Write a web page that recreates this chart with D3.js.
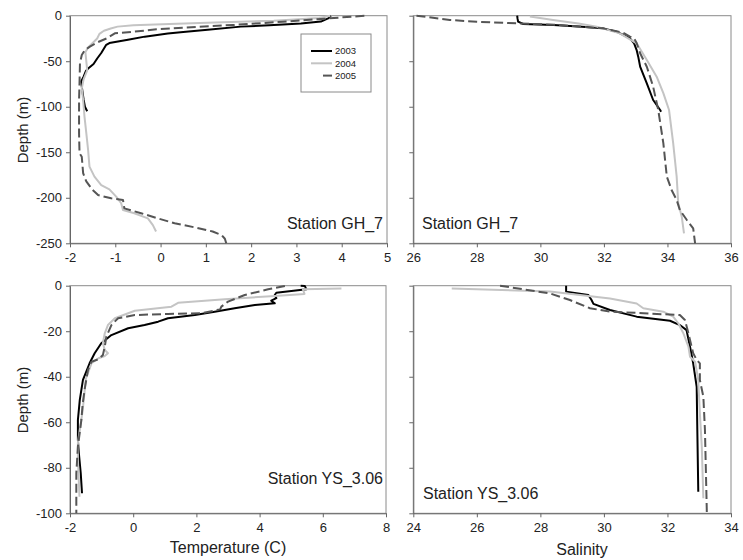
<!DOCTYPE html>
<html><head><meta charset="utf-8">
<script src="https://cdn.jsdelivr.net/npm/d3@7"></script>
<style>body{margin:0;background:#fff}svg{display:block;font-family:"Liberation Sans",Arial,sans-serif}</style>
</head><body><svg id="c" width="743" height="560"></svg>
<script>
// ---- data: [value, depth(m)] ----
const years = ["2003", "2004", "2005"];
const gh7Temp2003 = [[3.76,0],[3.7,3],[3.54,6.5],[3.1,8.5],[2.4,10.5],[1.77,12],[1.04,15.5],[0.5,18],[0.16,19.5],[-0.35,23],[-0.72,26.5],[-1.13,30],[-1.2,32],[-1.25,36],[-1.31,41],[-1.4,47],[-1.48,53],[-1.6,58],[-1.65,61],[-1.7,67],[-1.75,72],[-1.74,78],[-1.72,85],[-1.7,92],[-1.67,100],[-1.62,105]];
const gh7Temp2004 = [[3.75,0],[3.5,2.5],[2.5,5.5],[1.2,7.5],[0.2,9],[-0.6,10.5],[-0.95,12],[-1.1,14],[-1.25,16.5],[-1.35,20],[-1.4,25],[-1.5,30],[-1.6,35],[-1.66,40],[-1.64,50],[-1.62,60],[-1.7,70],[-1.74,80],[-1.71,92.6],[-1.68,110.8],[-1.64,129],[-1.6,147.5],[-1.57,165.8],[-1.46,176.8],[-1.31,186],[-1.13,190.7],[-0.98,198.8],[-0.87,206],[-0.83,213.4],[-0.58,217],[-0.28,222.6],[-0.17,230],[-0.1,237]];
const gh7Temp2005 = [[4.5,0],[3.73,2.9],[2.7,6.6],[1.6,10.2],[0.86,12.1],[-0.09,15],[-0.6,17.6],[-1.01,19.4],[-1.19,24.9],[-1.41,29.6],[-1.56,34],[-1.67,37.7],[-1.74,43.2],[-1.78,52.3],[-1.79,74.3],[-1.8,92.6],[-1.8,129],[-1.79,151],[-1.74,155],[-1.71,173],[-1.64,182],[-1.5,191.4],[-1.38,197],[-1.09,200.6],[-0.83,202.4],[-0.8,211.6],[-0.43,217],[-0.06,222.6],[0.31,228],[0.8,233],[1.15,237],[1.35,241],[1.42,245],[1.45,250]];

const gh7Sal2003 = [[29.27,0],[29.28,3],[29.3,6.6],[29.46,9.1],[30.41,10.2],[31.2,11.8],[31.98,13.9],[32.4,17.6],[32.82,24.9],[32.95,30.4],[33.03,37.7],[33.08,45],[33.14,56],[33.35,74.3],[33.55,92.6],[33.77,103.6],[33.8,105.4]];
const gh7Sal2004 = [[29.67,1],[30.4,4.7],[31.2,8.5],[31.77,12],[32.5,19.4],[33.03,30.3],[33.35,48.7],[33.66,67],[33.87,85],[34.05,103.6],[34.18,140],[34.29,176.8],[34.34,206],[34.45,220.8],[34.52,239]];
const gh7Sal2005 = [[26.1,0],[27.15,4.7],[28.0,6.6],[29.25,8.4],[30.6,10.2],[31.98,13.9],[32.6,18.6],[32.82,23],[32.95,25],[33.03,30],[33.14,41.3],[33.35,56],[33.55,78],[33.71,103.6],[33.87,140],[33.98,176.8],[34.13,191.5],[34.29,202.4],[34.39,213.4],[34.61,224.4],[34.81,233.6],[34.87,250]];

const ysTemp2003 = [[5.3,0],[5.43,0.1],[5.48,1.6],[4.53,3.1],[4.48,4.1],[4.53,5.5],[4.37,6.6],[4.48,7.75],[3.85,8.5],[3.21,9.9],[2.58,11.4],[1.95,12.9],[1.1,14.3],[0.79,15.8],[0.36,17.3],[-0.16,18.7],[-0.69,21.7],[-1.01,25.3],[-1.22,29.7],[-1.38,34.1],[-1.59,41.4],[-1.69,50.2],[-1.75,59],[-1.75,67.8],[-1.72,73.5],[-1.66,82.4],[-1.62,91.2]];
const ysTemp2004 = [[6.59,1.2],[5.37,1.6],[5.42,3.6],[4.48,4.5],[2.9,6],[1.42,7.5],[1.21,9.2],[0.05,11],[-0.58,14.3],[-0.8,17.3],[-0.9,20.9],[-0.96,25.3],[-0.9,28.2],[-0.8,29.7],[-0.9,30.9],[-1.1,31.9],[-1.32,34.1],[-1.5,41],[-1.6,55],[-1.75,69],[-1.75,76.6],[-1.7,92.7]];
const ysTemp2005 = [[4.8,0.1],[4.27,1.6],[3.53,4.1],[3.0,7],[2.79,9.2],[2.75,10.4],[2.16,12.1],[1.1,12.4],[0.05,12.9],[-0.48,14.3],[-0.69,17.3],[-0.85,22.4],[-0.9,26.8],[-0.96,30.5],[-1.12,32.4],[-1.32,33.4],[-1.43,37],[-1.53,45],[-1.6,52],[-1.64,59],[-1.75,70.7],[-1.8,82.4],[-1.8,100]];

const ysSal2003 = [[28.81,0],[28.81,2.6],[29.51,4.1],[29.61,6.3],[29.67,8],[30.19,10.7],[31.03,13.6],[32.08,15.4],[32.39,17.3],[32.6,19.5],[32.71,26.8],[32.81,34.1],[32.92,44.4],[32.94,63.4],[32.97,90.5]];
const ysSal2004 = [[25.21,1.2],[28.3,2.6],[30.19,5.6],[31.03,7.8],[31.24,9.9],[31.87,11.4],[32.18,13.6],[32.34,16.5],[32.5,20.9],[32.66,26.8],[32.71,31.2],[32.87,33.4],[32.97,41.4],[33.02,56],[33.08,70.7],[33.13,93.4]];
const ysSal2005 = [[26.73,0],[28.3,3.4],[28.93,6.3],[29.56,9.9],[30.19,11.4],[31.24,12.1],[32.39,12.9],[32.55,15.1],[32.66,20.9],[32.81,29.7],[32.92,32.6],[33.02,34.1],[33.02,41.4],[33.13,48.8],[33.18,63.4],[33.24,100]];

const tempTicksGH = [-2,-1,0,1,2,3,4,5];
const salTicksGH = [26,28,30,32,34,36];
const depthTicksGH = [0,-50,-100,-150,-200,-250];
const tempTicksYS = [-2,0,2,4,6,8];
const salTicksYS = [24,26,28,30,32,34];
const depthTicksYS = [0,-20,-40,-60,-80,-100];

// ---- layout ----
const svg = d3.select("#c");
const styles = {
  "2003": {stroke:"#000", width:2, dash:null},
  "2004": {stroke:"#c4c4c4", width:2, dash:null},
  "2005": {stroke:"#555", width:2, dash:"9,4"}
};
const fmt = d => String(d); // plain hyphen-minus like the reference

const panels = [
  {x0:70, x1:387, y0:15.7, y1:243.3, xd:[-2,5], xt:tempTicksGH, yd:[0,-250], yt:depthTicksGH, labels:true,
   series:[gh7Temp2003, gh7Temp2004, gh7Temp2005], station:"Station GH_7", sx:383, sy:229, anchor:"end"},
  {x0:413.3, x1:731, y0:15.7, y1:243.3, xd:[26,36], xt:salTicksGH, yd:[0,-250], yt:depthTicksGH, labels:false,
   series:[gh7Sal2003, gh7Sal2004, gh7Sal2005], station:"Station GH_7", sx:422, sy:229, anchor:"start"},
  {x0:70, x1:386, y0:285.7, y1:513.3, xd:[-2,8], xt:tempTicksYS, yd:[0,-100], yt:depthTicksYS, labels:true,
   series:[ysTemp2003, ysTemp2004, ysTemp2005], station:"Station YS_3.06", sx:383, sy:484, anchor:"end"},
  {x0:413.3, x1:731, y0:285.7, y1:513.3, xd:[24,34], xt:salTicksYS, yd:[0,-100], yt:depthTicksYS, labels:false,
   series:[ysSal2003, ysSal2004, ysSal2005], station:"Station YS_3.06", sx:423, sy:499, anchor:"start"}
];

panels.forEach(p => {
  const x = d3.scaleLinear().domain(p.xd).range([p.x0, p.x1]);
  const y = d3.scaleLinear().domain(p.yd).range([p.y0, p.y1]);
  const g = svg.append("g");
  g.append("rect").attr("x", p.x0).attr("y", p.y0).attr("width", p.x1 - p.x0).attr("height", p.y1 - p.y0)
    .attr("fill", "none").attr("stroke", "#8a8a8a").attr("stroke-width", 1);
  const xa = g.append("g").attr("transform", `translate(0,${p.y1})`)
    .call(d3.axisBottom(x).tickValues(p.xt).tickSize(4).tickSizeOuter(0).tickPadding(3).tickFormat(fmt));
  const ya = g.append("g").attr("transform", `translate(${p.x0},0)`)
    .call(d3.axisLeft(y).tickValues(p.yt).tickSize(4).tickSizeOuter(0).tickPadding(4)
      .tickFormat(p.labels ? fmt : () => ""));
  [xa, ya].forEach(a => {
    a.select(".domain").attr("stroke", "#666");
    a.selectAll(".tick line").attr("stroke", "#666");
    a.selectAll("text").attr("fill", "#222").style("font-size", "13px").style("font-family", '"Liberation Sans",Arial,sans-serif');
  });
  xa.selectAll("text").attr("dy", "0.9em");
  const line = d3.line().x(d => x(d[0])).y(d => y(-d[1]));
  p.series.forEach((s, i) => {
    const st = styles[years[i]];
    g.append("path").datum(s).attr("d", line).attr("fill", "none")
      .attr("stroke", st.stroke).attr("stroke-width", st.width)
      .attr("stroke-dasharray", st.dash).attr("stroke-linejoin", "round");
  });
  g.append("text").attr("x", p.sx).attr("y", p.sy).attr("text-anchor", p.anchor)
    .style("font-size", "16px").attr("fill", "#222").text(p.station);
});

svg.append("text").attr("transform", "translate(23,130) rotate(-90)").attr("text-anchor", "middle")
  .attr("dy", "0.35em").style("font-size", "15px").attr("fill", "#222").text("Depth (m)");
svg.append("text").attr("transform", "translate(23,400) rotate(-90)").attr("text-anchor", "middle")
  .attr("dy", "0.35em").style("font-size", "15px").attr("fill", "#222").text("Depth (m)");
svg.append("text").attr("x", 228).attr("y", 547).attr("dy", "0.35em").attr("text-anchor", "middle")
  .style("font-size", "16px").attr("fill", "#222").text("Temperature (C)");
svg.append("text").attr("x", 582).attr("y", 549).attr("dy", "0.35em").attr("text-anchor", "middle")
  .style("font-size", "16px").attr("fill", "#222").text("Salinity");

const lg = svg.append("g");
lg.append("rect").attr("x", 301).attr("y", 34).attr("width", 70).attr("height", 58)
  .attr("fill", "#fff").attr("stroke", "#8a8a8a").attr("stroke-width", 1);
years.forEach((yr, i) => {
  const st = styles[yr];
  const yy = 51 + i * 12.3;
  lg.append("line").attr("x1", st.dash ? 323 : 311).attr("x2", 332).attr("y1", yy).attr("y2", yy)
    .attr("stroke", st.stroke).attr("stroke-width", st.width);
  lg.append("text").attr("x", 335).attr("y", yy).attr("dy", "0.35em")
    .style("font-size", "9.5px").attr("fill", "#222").text(yr);
});
</script></body></html>
